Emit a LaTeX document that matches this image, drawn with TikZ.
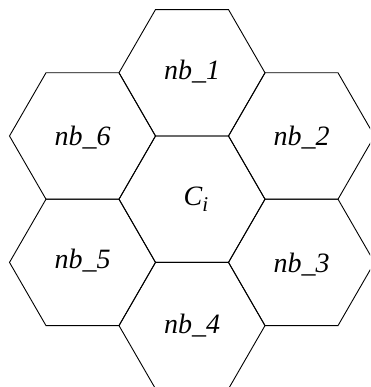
\documentclass[tikz,border=0pt]{standalone}
\usepackage{fontspec}
\setmainfont{Liberation Serif}
\begin{document}
\begin{tikzpicture}[x=1pt,y=1pt,
  hexline/.style={draw=black,line width=0.9pt,line join=miter},
  lbl/.style={font=\fontsize{28}{28}\selectfont\itshape,inner sep=0pt}]
\useasboundingbox (0,0) rectangle (370,387);
\clip (0,0) rectangle (370,387);
\def\R{73}
\foreach \n/\x/\y in {c/192/187.8, a/192/314.2, b/301.5/251, d/301.5/124.6, e/192/61.4, f/82.5/124.6, g/82.5/251}{
  \coordinate (\n) at (\x,\y);
  \draw[hexline] (\n) ++(0:\R) -- ++(120:\R) -- ++(180:\R) -- ++(240:\R) -- ++(300:\R) -- ++(0:\R) -- cycle;
}
\node[lbl] (tc) at ([xshift=4pt]c) {C\raisebox{-6pt}{\fontsize{21}{21}\selectfont i}};
\node[lbl] (ta) at ([yshift=1pt]a) {nb\_1};
\node[lbl] (tb) at ([yshift=-2pt]b) {nb\_2};
\node[lbl] (td) at ([yshift=-2pt]d) {nb\_3};
\node[lbl] (te) at (e) {nb\_4};
\node[lbl] (tf) at ([yshift=2pt]f) {nb\_5};
\node[lbl] (tg) at ([yshift=-2pt]g) {nb\_6};
\end{tikzpicture}
\end{document}
